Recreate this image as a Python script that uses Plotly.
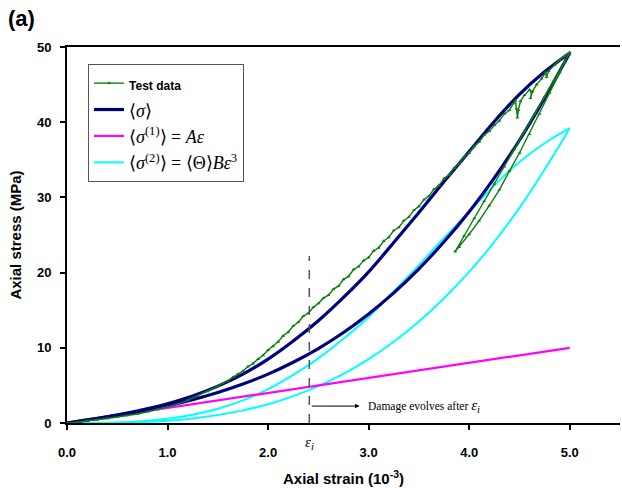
import plotly.graph_objects as go

# ---- Model curves: strain (10^-3) vs stress (MPa) ----
strain_grid = [0.0, 0.25, 0.5, 0.75, 1.0, 1.25, 1.5, 1.75, 2.0, 2.25, 2.5,
               2.75, 3.0, 3.25, 3.5, 3.75, 4.0, 4.25, 4.5, 4.75, 5.0]

# <sigma> loading branch (upper) and unloading branch (lower)
sigma_load = [0.0, 0.51, 1.07, 1.74, 2.57, 3.6, 4.9, 6.5, 8.5, 10.9, 13.6,
              16.7, 20.1, 24.0, 28.0, 32.1, 36.1, 40.1, 43.7, 46.7, 49.2]
sigma_unload = [0.0, 0.5, 1.04, 1.63, 2.31, 3.11, 4.06, 5.18, 6.5, 8.08, 9.9,
                12.03, 14.5, 17.3, 20.5, 24.1, 28.1, 32.6, 37.6, 43.2, 49.2]

# <sigma^(2)> loading branch (upper) and unloading branch (lower)
sigma2_load = [0.0, 0.01, 0.07, 0.24, 0.57, 1.1, 1.9, 3.0, 4.5, 6.4, 8.6,
               11.2, 14.1, 17.5, 21.0, 24.6, 28.1, 31.6, 34.7, 37.2, 39.2]
sigma2_unload = [0.0, 0.005, 0.04, 0.13, 0.31, 0.61, 1.06, 1.68, 2.5, 3.58, 4.9,
                 6.53, 8.5, 10.8, 13.5, 16.6, 20.1, 24.1, 28.6, 33.7, 39.2]

# <sigma^(1)> = A*eps (linear)
sigma1_strain = [0.0, 5.0]
sigma1_stress = [0.0, 10.0]

# ---- Test data ----
test_strain = [
    0.0, 0.1, 0.2, 0.3, 0.4, 0.5, 0.6, 0.7, 0.8, 0.9, 1.0, 1.1, 1.2, 1.3, 1.4,
    1.5, 1.55, 1.6, 1.65, 1.7, 1.75, 1.8, 1.85, 1.9, 1.95, 2.0, 2.05, 2.1, 2.15,
    2.2, 2.25, 2.3, 2.35, 2.4, 2.45, 2.5, 2.55, 2.6, 2.65, 2.7, 2.75, 2.8, 2.85,
    2.9, 2.95, 3.0, 3.05, 3.1, 3.15, 3.2, 3.25, 3.3, 3.35, 3.4, 3.45, 3.5, 3.55,
    3.6, 3.65, 3.7, 3.75, 3.8, 3.85, 3.9, 3.95, 4.0, 4.05, 4.1, 4.15, 4.2, 4.25,
    4.3, 4.35, 4.4,
    4.44, 4.46, 4.47, 4.48, 4.49, 4.51, 4.55, 4.6, 4.62, 4.61, 4.63, 4.67, 4.72,
    4.76, 4.77, 4.79, 4.85, 4.9, 4.95, 5.0,
    4.9, 4.8, 4.7, 4.6, 4.5, 4.4, 4.3, 4.2, 4.1, 4.0, 3.9, 3.86,
    3.95, 4.05, 4.15, 4.25, 4.35, 4.45, 4.55, 4.65, 4.75, 4.85, 4.95, 4.99,
]
test_stress = [
    0.0, 0.1, 0.3, 0.4, 0.6, 0.8, 1.0, 1.2, 1.5, 1.8, 2.1, 2.5, 3.0, 3.6, 4.2,
    4.9, 5.3, 5.6, 6.1, 6.5, 6.9, 7.5, 7.9, 8.5, 9.0, 9.7, 10.2, 10.8, 11.6,
    12.1, 12.9, 13.4, 14.2, 14.6, 15.4, 15.9, 16.6, 17.0, 17.8, 18.2, 19.1, 19.5, 20.4,
    20.8, 21.6, 22.0, 22.9, 23.3, 24.2, 24.7, 25.6, 26.0, 26.9, 27.4, 28.3, 28.8, 29.7,
    30.2, 31.1, 31.6, 32.5, 33.0, 33.9, 34.5, 35.4, 35.9, 36.8, 37.4, 38.3, 38.8, 39.6,
    40.2, 41.1, 41.6,
    42.5, 42.9, 41.8, 40.6, 41.6, 42.8, 43.6, 44.3, 44.0, 43.2, 44.1, 45.0, 45.8,
    46.6, 46.0, 46.8, 47.6, 48.3, 48.8, 49.3,
    46.6, 43.9, 41.1, 38.4, 35.9, 33.5, 31.0, 28.9, 26.9, 25.1, 23.4, 22.8,
    24.9, 27.2, 29.5, 31.8, 34.1, 36.4, 38.8, 41.1, 43.4, 45.7, 48.0, 49.0,
]

EPS_I = 2.41          # damage initiation strain
EPS_I_LINE_TOP = 22.2  # top of the dashed marker line (MPa)

X_TICKS = [0, 1, 2, 3, 4, 5]
Y_TICKS = [0, 10, 20, 30, 40, 50]

SERIF = "Liberation Serif, Times New Roman, serif"
SANS = "Liberation Sans, Arial, sans-serif"

GREEN = "#0a800a"
NAVY = "#000080"
MAGENTA = "#ff00ff"
CYAN = "#00ffff"

fig = go.Figure()

# sigma^(2) branches
fig.add_trace(go.Scatter(
    x=strain_grid, y=sigma2_load, mode="lines", line=dict(color=CYAN, width=2, shape="spline"),
    name="⟨<i>σ</i><sup>(2)</sup>⟩ = ⟨Θ⟩<i>Bε</i><sup>3</sup>", legendgroup="s2", legendrank=4))
fig.add_trace(go.Scatter(
    x=strain_grid, y=sigma2_unload, mode="lines", line=dict(color=CYAN, width=2, shape="spline"),
    legendgroup="s2", showlegend=False))

# sigma^(1)
fig.add_trace(go.Scatter(
    x=sigma1_strain, y=sigma1_stress, mode="lines", line=dict(color=MAGENTA, width=2.2),
    name="⟨<i>σ</i><sup>(1)</sup>⟩ = <i>Aε</i>", legendrank=3))

# total sigma branches
fig.add_trace(go.Scatter(
    x=strain_grid, y=sigma_load, mode="lines", line=dict(color=NAVY, width=3.2, shape="spline"),
    name="⟨<i>σ</i>⟩", legendgroup="s", legendrank=2))
fig.add_trace(go.Scatter(
    x=strain_grid, y=sigma_unload, mode="lines", line=dict(color=NAVY, width=3.2, shape="spline"),
    legendgroup="s", showlegend=False))

# measured curve
fig.add_trace(go.Scatter(
    x=test_strain, y=test_stress, mode="lines+markers",
    line=dict(color=GREEN, width=1.4),
    marker=dict(color=GREEN, size=3.5, symbol="triangle-up"),
    name='<span style="font-family:Liberation Sans, Arial;font-size:12px"><b>Test data</b></span>',
    legendrank=1))

# damage initiation marker
fig.add_shape(type="line", x0=EPS_I, x1=EPS_I, y0=0, y1=EPS_I_LINE_TOP,
              xref="x", yref="y", line=dict(color="#555555", width=1.5, dash="dash"))

fig.add_annotation(x=2.91, y=2.25, ax=EPS_I + 0.01, ay=2.25, xref="x", yref="y",
                   axref="x", ayref="y", text="", showarrow=True,
                   arrowhead=2, arrowsize=0.9, arrowwidth=1, arrowcolor="black")
fig.add_annotation(x=2.97, y=2.25, xref="x", yref="y", xanchor="left", yanchor="middle",
                   text='Damage evolves after <span style="font-size:15px"><i>ε<sub>i</sub></i></span>',
                   showarrow=False,
                   font=dict(family=SERIF, size=11.5, color="black"))
fig.add_annotation(x=EPS_I, y=-0.052, xref="x", yref="paper", xanchor="center", yanchor="middle",
                   text="<i>ε<sub>i</sub></i>", showarrow=False,
                   font=dict(family=SERIF, size=15, color="black"))
fig.add_annotation(x=-0.11, y=1.077, xref="paper", yref="paper", xanchor="left", yanchor="middle",
                   text="<b>(a)</b>", showarrow=False,
                   font=dict(family=SANS, size=22, color="black"))

fig.update_layout(
    width=622, height=488,
    margin=dict(l=67, r=2, t=47, b=65),
    paper_bgcolor="white", plot_bgcolor="white",
    showlegend=True,
    legend=dict(
        x=0.038, y=0.955, xanchor="left", yanchor="top",
        bgcolor="white", bordercolor="#555555", borderwidth=1,
        font=dict(family=SERIF, size=18, color="black"),
        tracegroupgap=0, itemwidth=30,
    ),
)

fig.update_xaxes(
    range=[0, 5.5], tickvals=X_TICKS, tickformat=".1f",
    showline=True, linecolor="black", linewidth=2, mirror=True,
    ticks="outside", ticklen=5, tickwidth=1.5, tickcolor="black",
    ticklabelstandoff=11,
    tickfont=dict(family=SANS, size=13, color="black", weight="bold"),
    showgrid=False, zeroline=False,
    title=dict(text="<b>Axial strain (10<sup>-3</sup>)</b>", standoff=15,
               font=dict(family=SANS, size=15, color="black")),
)
fig.update_yaxes(
    range=[0, 50], tickvals=Y_TICKS,
    showline=True, linecolor="black", linewidth=2, mirror=False,
    ticks="outside", ticklen=5, tickwidth=1.5, tickcolor="black",
    ticklabelstandoff=6,
    tickfont=dict(family=SANS, size=13, color="black", weight="bold"),
    showgrid=False, zeroline=False,
    title=dict(text="<b>Axial stress (MPa)</b>", standoff=12,
               font=dict(family=SANS, size=15, color="black")),
)

fig.write_html("out.html")
